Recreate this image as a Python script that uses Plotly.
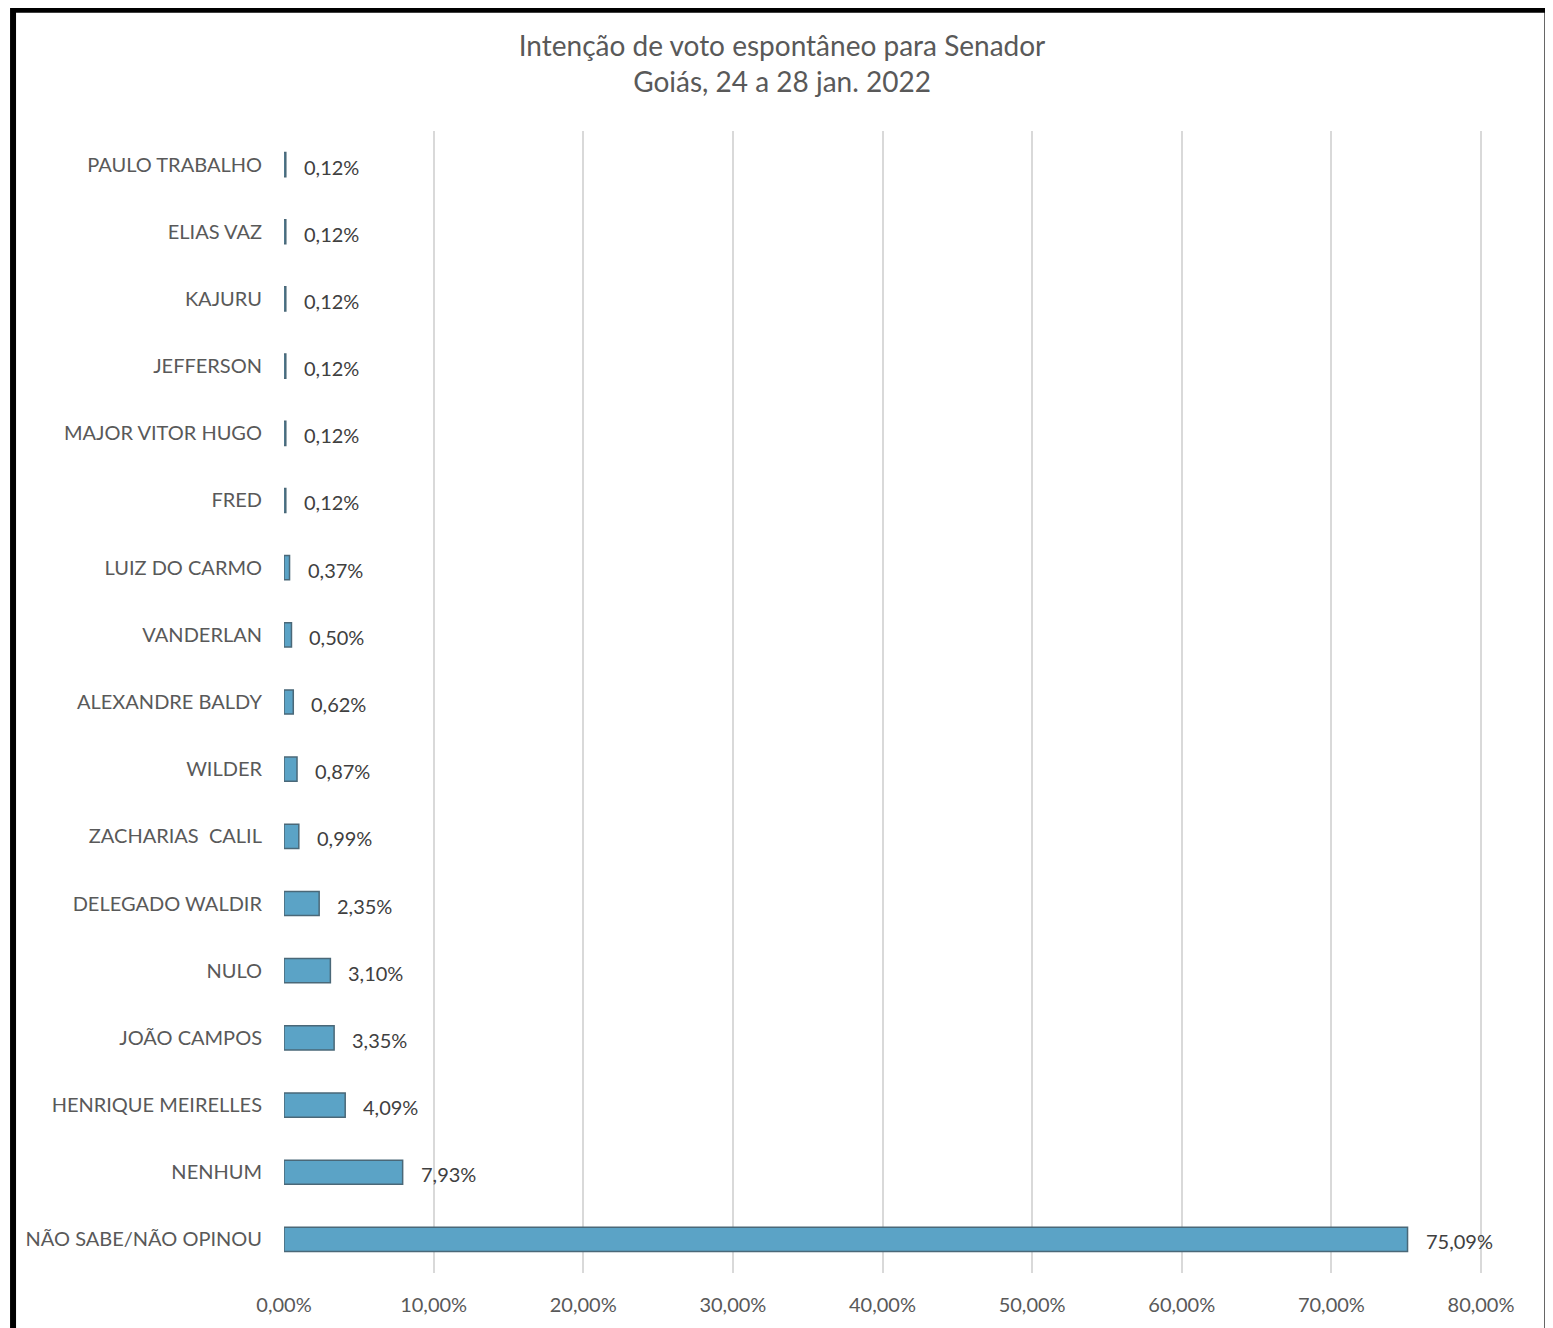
import plotly.graph_objects as go

categories = [
    "PAULO TRABALHO", "ELIAS VAZ", "KAJURU", "JEFFERSON", "MAJOR VITOR HUGO",
    "FRED", "LUIZ DO CARMO", "VANDERLAN", "ALEXANDRE BALDY", "WILDER",
    "ZACHARIAS\u00a0 CALIL", "DELEGADO WALDIR", "NULO", "JOÃO CAMPOS",
    "HENRIQUE MEIRELLES", "NENHUM", "NÃO SABE/NÃO OPINOU",
]
values = [0.12, 0.12, 0.12, 0.12, 0.12, 0.12, 0.37, 0.50, 0.62, 0.87,
          0.99, 2.35, 3.10, 3.35, 4.09, 7.93, 75.09]
tick_values = [0, 10, 20, 30, 40, 50, 60, 70, 80]

FONT = "Lato"


def pct(v):
    return f"{v:.2f}".replace(".", ",") + "%"


fig = go.Figure(
    go.Bar(
        x=values,
        y=categories,
        orientation="h",
        width=0.36,
        marker=dict(color="#5BA3C6", line=dict(color="#4A6878", width=1.5)),
        hoverinfo="x+y",
    )
)

# value labels to the right of each bar
for cat, v in zip(categories, values):
    fig.add_annotation(
        x=v, y=cat, text=pct(v), showarrow=False,
        xanchor="left", xshift=16, yshift=-2,
        font=dict(family=FONT, size=20, color="#404040"),
    )

# thick black frame around the chart (left, top, right)
frame = dict(type="line", xref="paper", yref="paper", layer="above")
fig.add_shape(x0=-0.2258, x1=-0.2258, y0=-0.06, y1=1.1088,
              line=dict(color="black", width=6), **frame)
fig.add_shape(x0=-0.2258, x1=1.06, y0=1.1062, y1=1.1062,
              line=dict(color="black", width=6), **frame)
fig.add_shape(x0=1.0545, x1=1.0545, y0=-0.06, y1=1.1088,
              line=dict(color="black", width=10), **frame)

# the page body adds an 8px margin, so the figure is 8px smaller
fig.update_layout(
    width=1545,
    height=1320,
    margin=dict(l=276, r=69, t=123, b=53),
    paper_bgcolor="white",
    plot_bgcolor="white",
    separators=",.",
    title=dict(
        text="Intenção de voto espontâneo para Senador<br>Goiás, 24 a 28 jan. 2022",
        x=0.501, xanchor="center", y=0.964, yanchor="middle",
        font=dict(family=FONT, size=28, color="#595959"),
    ),
    xaxis=dict(
        range=[0, 80.2],
        tickvals=tick_values,
        ticktext=[pct(t) for t in tick_values],
        showgrid=True,
        gridcolor="#D9D9D9",
        gridwidth=1.5,
        zeroline=False,
        showline=False,
        ticks="outside",
        ticklen=14,
        tickcolor="white",
        tickfont=dict(family=FONT, size=20, color="#595959"),
    ),
    yaxis=dict(
        autorange="reversed",
        showgrid=False,
        showline=False,
        ticks="outside",
        ticklen=17,
        tickcolor="white",
        tickfont=dict(family=FONT, size=20, color="#595959"),
    ),
    showlegend=False,
)

fig.write_html("out.html")
